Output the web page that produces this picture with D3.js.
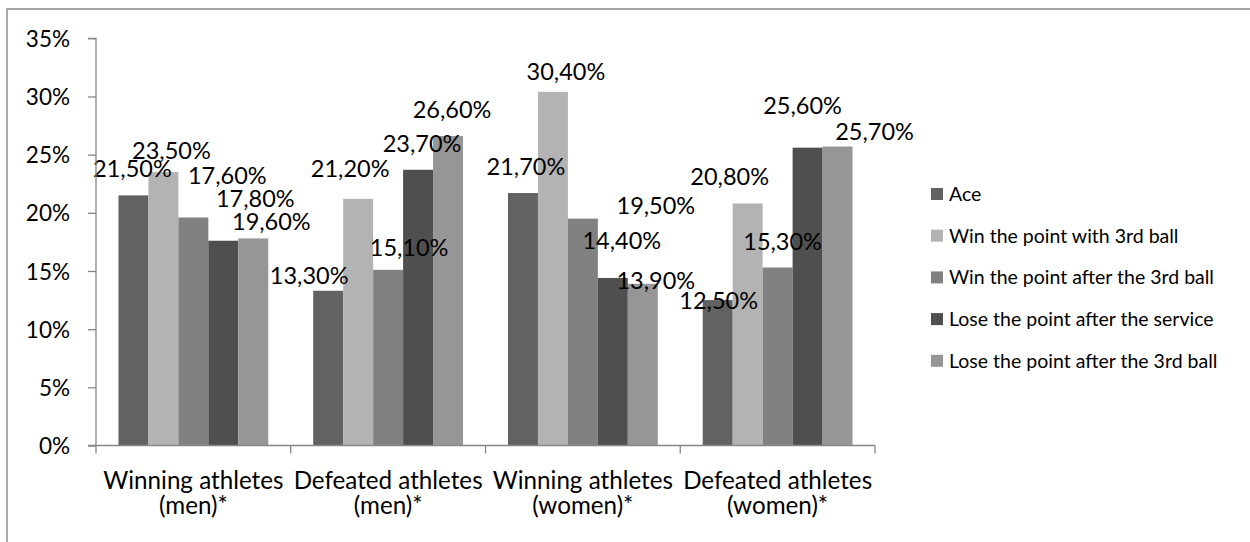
<!DOCTYPE html>
<html>
<head>
<meta charset="utf-8">
<script src="https://cdn.jsdelivr.net/npm/d3@7"></script>
<style>
  html, body { margin: 0; padding: 0; background: #fff; }
  svg { display: block; font-family: Lato, "Open Sans", sans-serif; }
</style>
</head>
<body>
<svg id="chart" width="1250" height="542"></svg>
<script>
// Serve outcomes by athlete group
const categories = [
  ["Winning athletes", "(men)*"],
  ["Defeated athletes", "(men)*"],
  ["Winning athletes", "(women)*"],
  ["Defeated athletes", "(women)*"]
];
const seriesNames = [
  "Ace",
  "Win the point with 3rd ball",
  "Win the point after the 3rd ball",
  "Lose the point after the service",
  "Lose the point after the 3rd ball"
];
// Percentages per group, one entry per series (in seriesNames order)
const winningMen    = [21.5, 23.5, 19.6, 17.6, 17.8];
const defeatedMen   = [13.3, 21.2, 15.1, 23.7, 26.6];
const winningWomen  = [21.7, 30.4, 19.5, 14.4, 13.9];
const defeatedWomen = [12.5, 20.8, 15.3, 25.6, 25.7];
const yTicks = [0, 5, 10, 15, 20, 25, 30, 35];

const groupValues = [winningMen, defeatedMen, winningWomen, defeatedWomen];
const colors = ["#626262", "#b3b3b3", "#818181", "#4f4f4f", "#969696"];

// Hand-placed data label offsets (dx, dy) from each bar's top centre
const labelOffsets = [
  [[-1, -27], [8, -22], [78, 4], [4, -65], [2, -40]],
  [[-19, -15], [-8, -30], [21, -22], [4, -26], [4, -27]],
  [[3, -27], [13, -20], [73, -13], [9, -37], [13, -3]],
  [[1, 0], [-18, -27], [5, -26], [-5, -42], [37, -15]]
];

const svg = d3.select("#chart");
const axisColor = "#868686";

// Chart frame
svg.append("path")
  .attr("d", "M7,560 L7,9 L1270,9")
  .attr("fill", "none")
  .attr("stroke", "#878787")
  .attr("stroke-width", 1.4);

const plotLeft = 96, plotRight = 875, plotTop = 38.3, plotBottom = 445.5;

const x0 = d3.scaleBand()
  .domain(d3.range(categories.length))
  .range([plotLeft, plotRight])
  .paddingInner(0).paddingOuter(0);

const x1 = d3.scaleBand()
  .domain(d3.range(seriesNames.length))
  .range([0, x0.bandwidth()])
  .paddingInner(0).paddingOuter(0.75);

const y = d3.scaleLinear().domain([0, 35]).range([plotBottom, plotTop]);

const fmt = v => d3.format(".2f")(v).replace(".", ",") + "%";

// Bars
const groups = svg.append("g").selectAll("g")
  .data(groupValues)
  .join("g")
  .attr("transform", (d, i) => `translate(${x0(i)},0)`);

groups.selectAll("rect")
  .data(d => d)
  .join("rect")
  .attr("x", (d, j) => x1(j))
  .attr("width", x1.bandwidth())
  .attr("y", d => y(d))
  .attr("height", d => y(0) - y(d))
  .attr("fill", (d, j) => colors[j]);

// Y axis
const yAxis = svg.append("g")
  .attr("transform", `translate(${plotLeft},0)`)
  .call(d3.axisLeft(y).tickValues(yTicks).tickSize(8).tickPadding(18)
    .tickFormat(d => d + "%"));
yAxis.select(".domain").attr("stroke", axisColor).attr("stroke-width", 1.3)
  .attr("d", `M-8,${plotTop}H0V${plotBottom}H-8`);
yAxis.selectAll(".tick line").attr("stroke", axisColor).attr("stroke-width", 1.3);
yAxis.selectAll(".tick text")
  .attr("fill", "#000")
  .attr("dy", "0.36em")
  .style("font-size", "22.5px")
  .style("font-family", "Lato, sans-serif");

// X axis
const xAxisG = svg.append("g").attr("transform", `translate(0,${plotBottom})`);
xAxisG.append("line")
  .attr("x1", plotLeft).attr("x2", plotRight)
  .attr("stroke", axisColor).attr("stroke-width", 1.3);
xAxisG.selectAll("line.tick")
  .data(d3.range(categories.length + 1))
  .join("line")
  .attr("class", "tick")
  .attr("x1", i => i < categories.length ? x0(i) : plotRight)
  .attr("x2", i => i < categories.length ? x0(i) : plotRight)
  .attr("y1", 0).attr("y2", 8)
  .attr("stroke", axisColor).attr("stroke-width", 1.3);

const catLabels = xAxisG.selectAll("text.cat")
  .data(categories)
  .join("text")
  .attr("class", "cat")
  .attr("text-anchor", "middle")
  .attr("x", (d, i) => x0(i) + x0.bandwidth() / 2)
  .style("font-size", "24.2px")
  .attr("fill", "#000");
catLabels.append("tspan").attr("x", (d, i) => x0(i) + x0.bandwidth() / 2).attr("y", 43).text(d => d[0]);
catLabels.append("tspan").attr("x", (d, i) => x0(i) + x0.bandwidth() / 2).attr("y", 68).text(d => d[1]);

// Data labels
groups.selectAll("text.val")
  .data((d, i) => d.map((v, j) => ({ v, j, off: labelOffsets[i][j] })))
  .join("text")
  .attr("class", "val")
  .attr("text-anchor", "middle")
  .attr("x", d => x1(d.j) + x1.bandwidth() / 2 + d.off[0])
  .attr("y", d => y(d.v) + d.off[1] + 8.5)
  .style("font-size", "23.5px")
  .attr("fill", "#000")
  .text(d => fmt(d.v));

// Legend
const legend = svg.append("g").attr("transform", "translate(931,194)");
const items = legend.selectAll("g")
  .data(seriesNames)
  .join("g")
  .attr("transform", (d, i) => `translate(0,${i * 41.7})`);
items.append("rect")
  .attr("x", 0).attr("y", -6).attr("width", 12).attr("height", 12)
  .attr("fill", (d, i) => colors[i]);
items.append("text")
  .attr("x", 18).attr("y", 7)
  .style("font-size", "19.5px")
  .attr("fill", "#000")
  .text(d => d);
</script>
</body>
</html>
